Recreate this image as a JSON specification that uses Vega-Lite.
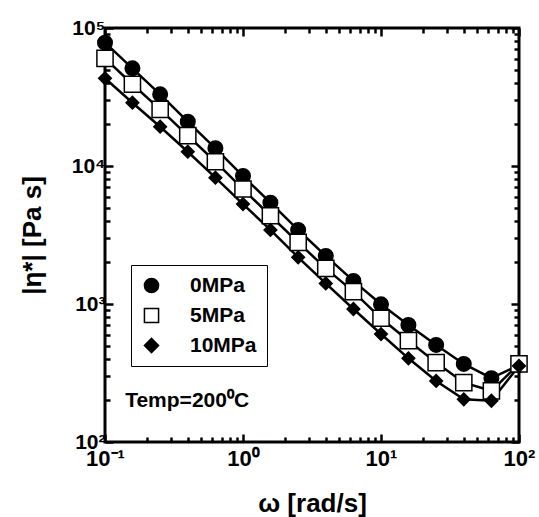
{
  "$schema": "https://vega.github.io/schema/vega-lite/v6.json",
  "width": 414,
  "height": 414,
  "autosize": {"type": "none"},
  "padding": {"left": 105, "top": 28, "right": 20, "bottom": 75},
  "background": "white",
  "config": {
    "font": "Liberation Sans",
    "view": {"stroke": "black", "strokeWidth": 3}
  },
  "data": {
    "values": [
      {"w": 0.1, "eta": 78250, "p": "0MPa"},
      {"w": 0.158, "eta": 51050, "p": "0MPa"},
      {"w": 0.251, "eta": 33080, "p": "0MPa"},
      {"w": 0.398, "eta": 20940, "p": "0MPa"},
      {"w": 0.631, "eta": 13440, "p": "0MPa"},
      {"w": 1, "eta": 8460, "p": "0MPa"},
      {"w": 1.58, "eta": 5420, "p": "0MPa"},
      {"w": 2.51, "eta": 3440, "p": "0MPa"},
      {"w": 3.98, "eta": 2230, "p": "0MPa"},
      {"w": 6.31, "eta": 1470, "p": "0MPa"},
      {"w": 10, "eta": 995, "p": "0MPa"},
      {"w": 15.8, "eta": 704, "p": "0MPa"},
      {"w": 25.1, "eta": 505, "p": "0MPa"},
      {"w": 39.8, "eta": 368, "p": "0MPa"},
      {"w": 63.1, "eta": 290, "p": "0MPa"},
      {"w": 100, "eta": 361, "p": "0MPa"},
      {"w": 0.1, "eta": 60300, "p": "5MPa"},
      {"w": 0.158, "eta": 39100, "p": "5MPa"},
      {"w": 0.251, "eta": 25750, "p": "5MPa"},
      {"w": 0.398, "eta": 16580, "p": "5MPa"},
      {"w": 0.631, "eta": 10740, "p": "5MPa"},
      {"w": 1, "eta": 6810, "p": "5MPa"},
      {"w": 1.58, "eta": 4360, "p": "5MPa"},
      {"w": 2.51, "eta": 2800, "p": "5MPa"},
      {"w": 3.98, "eta": 1810, "p": "5MPa"},
      {"w": 6.31, "eta": 1230, "p": "5MPa"},
      {"w": 10, "eta": 788, "p": "5MPa"},
      {"w": 15.8, "eta": 542, "p": "5MPa"},
      {"w": 25.1, "eta": 376, "p": "5MPa"},
      {"w": 39.8, "eta": 269, "p": "5MPa"},
      {"w": 63.1, "eta": 235, "p": "5MPa"},
      {"w": 100, "eta": 368, "p": "5MPa"},
      {"w": 0.1, "eta": 43200, "p": "10MPa"},
      {"w": 0.158, "eta": 28750, "p": "10MPa"},
      {"w": 0.251, "eta": 19260, "p": "10MPa"},
      {"w": 0.398, "eta": 12690, "p": "10MPa"},
      {"w": 0.631, "eta": 8230, "p": "10MPa"},
      {"w": 1, "eta": 5300, "p": "10MPa"},
      {"w": 1.58, "eta": 3440, "p": "10MPa"},
      {"w": 2.51, "eta": 2180, "p": "10MPa"},
      {"w": 3.98, "eta": 1410, "p": "10MPa"},
      {"w": 6.31, "eta": 920, "p": "10MPa"},
      {"w": 10, "eta": 606, "p": "10MPa"},
      {"w": 15.8, "eta": 404, "p": "10MPa"},
      {"w": 25.1, "eta": 277, "p": "10MPa"},
      {"w": 39.8, "eta": 204, "p": "10MPa"},
      {"w": 63.1, "eta": 199, "p": "10MPa"},
      {"w": 100, "eta": 356, "p": "10MPa"}
    ]
  },
  "layer": [
    {
      "mark": {"type": "line", "stroke": "black", "strokeWidth": 2.5},
      "encoding": {
        "x": {
          "field": "w", "type": "quantitative",
          "scale": {"type": "log", "domain": [0.1, 100], "nice": false, "zero": false},
          "axis": {
            "orient": "bottom",
            "values": [0.1, 0.2, 0.3, 0.4, 0.5, 0.6, 0.7, 0.8, 0.9, 1, 2, 3, 4, 5, 6, 7, 8, 9, 10, 20, 30, 40, 50, 60, 70, 80, 90, 100],
            "labelExpr": "abs(log(datum.value)/LN10 - round(log(datum.value)/LN10)) < 0.001 ? '10' + (datum.value < 0.5 ? '⁻¹' : datum.value < 5 ? '⁰' : datum.value < 50 ? '¹' : '²') : ''",
            "ticks": true,
            "tickSize": {"condition": {"test": "abs(log(datum.value)/LN10 - round(log(datum.value)/LN10)) < 0.001", "value": -8}, "value": -5},
            "tickWidth": 2.5,
            "tickColor": "black",
            "domain": false,
            "grid": false,
            "labelFontSize": 22,
            "labelFontWeight": "bold",
            "labelColor": "black",
            "labelPadding": 14,
            "labelOverlap": false,
            "labelFlush": false,
            "title": "ω [rad/s]",
            "titleFontSize": 26,
            "titleFontWeight": "bold",
            "titleColor": "black",
            "titlePadding": 18
          }
        },
        "y": {
          "field": "eta", "type": "quantitative",
          "scale": {"type": "log", "domain": [100, 100000], "nice": false, "zero": false},
          "axis": {
            "orient": "left",
            "values": [100, 200, 300, 400, 500, 600, 700, 800, 900, 1000, 2000, 3000, 4000, 5000, 6000, 7000, 8000, 9000, 10000, 20000, 30000, 40000, 50000, 60000, 70000, 80000, 90000, 100000],
            "labelExpr": "abs(log(datum.value)/LN10 - round(log(datum.value)/LN10)) < 0.001 ? '10' + (datum.value < 500 ? '²' : datum.value < 5000 ? '³' : datum.value < 50000 ? '⁴' : '⁵') : ''",
            "ticks": true,
            "tickSize": {"condition": {"test": "abs(log(datum.value)/LN10 - round(log(datum.value)/LN10)) < 0.001", "value": -8}, "value": -5},
            "tickWidth": 2.5,
            "tickColor": "black",
            "domain": false,
            "grid": false,
            "labelFontSize": 21,
            "labelFontWeight": "bold",
            "labelColor": "black",
            "labelPadding": 8,
            "labelOverlap": false,
            "labelFlush": false,
            "title": "|η*| [Pa s]",
            "titleFontSize": 26,
            "titleFontWeight": "bold",
            "titleColor": "black",
            "titlePadding": 26
          }
        },
        "detail": {"field": "p", "type": "nominal"}
      }
    },
    {
      "mark": {"type": "point", "filled": true, "stroke": "black", "strokeWidth": 1.5, "opacity": 1},
      "encoding": {
        "x": {
          "field": "w", "type": "quantitative",
          "scale": {"type": "log", "domain": [0.1, 100], "nice": false, "zero": false},
          "axis": {
            "orient": "top",
            "values": [0.1, 0.2, 0.3, 0.4, 0.5, 0.6, 0.7, 0.8, 0.9, 1, 2, 3, 4, 5, 6, 7, 8, 9, 10, 20, 30, 40, 50, 60, 70, 80, 90, 100],
            "labels": false,
            "ticks": true,
            "tickSize": {"condition": {"test": "abs(log(datum.value)/LN10 - round(log(datum.value)/LN10)) < 0.001", "value": -8}, "value": -5},
            "tickWidth": 2.5,
            "tickColor": "black",
            "domain": false,
            "grid": false,
            "title": null
          }
        },
        "y": {
          "field": "eta", "type": "quantitative",
          "scale": {"type": "log", "domain": [100, 100000], "nice": false, "zero": false},
          "axis": {
            "orient": "right",
            "values": [100, 200, 300, 400, 500, 600, 700, 800, 900, 1000, 2000, 3000, 4000, 5000, 6000, 7000, 8000, 9000, 10000, 20000, 30000, 40000, 50000, 60000, 70000, 80000, 90000, 100000],
            "labels": false,
            "ticks": true,
            "tickSize": {"condition": {"test": "abs(log(datum.value)/LN10 - round(log(datum.value)/LN10)) < 0.001", "value": -8}, "value": -5},
            "tickWidth": 2.5,
            "tickColor": "black",
            "domain": false,
            "grid": false,
            "title": null
          }
        },
        "shape": {
          "field": "p", "type": "nominal",
          "scale": {"domain": ["0MPa", "5MPa", "10MPa"], "range": ["circle", "square", "diamond"]},
          "legend": {
            "orient": "none",
            "legendX": 26,
            "legendY": 237,
            "title": null,
            "strokeColor": "black",
            "fillColor": "white",
            "padding": 10,
            "labelFont": "Liberation Sans",
            "labelFontSize": 21,
            "labelFontWeight": "bold",
            "labelColor": "black",
            "symbolSize": 200,
            "rowPadding": 8,
            "labelOffset": 28,
            "encode": {
              "legend": {
                "strokeWidth": {"value": 2}
              }
            }
          }
        },
        "fill": {
          "field": "p", "type": "nominal",
          "scale": {"domain": ["0MPa", "5MPa", "10MPa"], "range": ["black", "white", "black"]}
        },
        "size": {
          "field": "p", "type": "nominal",
          "scale": {"domain": ["5MPa", "0MPa", "10MPa"], "range": [262, 160, 150]},
          "legend": null
        }
      }
    },
    {
      "data": {"values": [{}]},
      "mark": {"type": "text", "text": "Temp=200⁰C", "align": "left", "baseline": "alphabetic", "font": "Liberation Sans", "fontSize": 21, "fontWeight": "bold", "fill": "black"},
      "encoding": {
        "x": {"datum": 0.14, "type": "quantitative", "axis": null},
        "y": {"datum": 180, "type": "quantitative", "axis": null}
      }
    }
  ],
  "resolve": {"axis": {"x": "independent", "y": "independent"}}
}
